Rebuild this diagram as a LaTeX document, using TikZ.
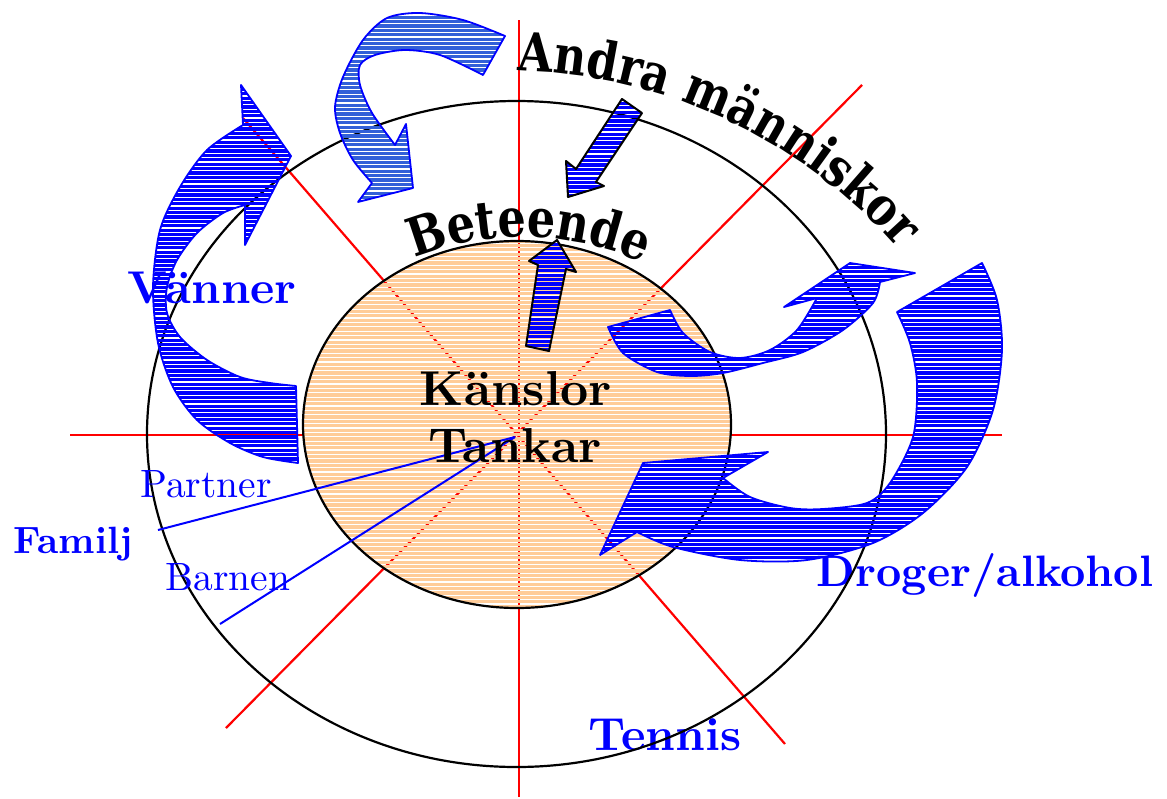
\documentclass[tikz,border=0pt]{standalone}
\usepackage{fontspec}
\setmainfont{lmroman10-regular.otf}[BoldFont=lmroman10-bold.otf]
\newfontfamily\archfont{DejaVu Serif}[FakeStretch=0.84]
\usetikzlibrary{decorations.text}

\definecolor{hookblue}{RGB}{50,96,216}
\definecolor{peach}{RGB}{255,204,153}

\begin{document}
\begin{tikzpicture}[x=1pt, y=-1pt,
  redline/.style={red, line width=2.2pt},
  ring/.style={black, line width=2.2pt},
  famline/.style={blue, line width=2pt},
  stripes/.style={path picture={
    \foreach \k in {0,...,95}
      \draw[#1, line width=3.2pt]
        ([yshift=-\k*4.4pt]path picture bounding box.north west) --
        ([yshift=-\k*4.4pt]path picture bounding box.north east);}},
  bluearrow/.style={draw=blue, line width=1.8pt, line join=round, stripes=blue},
  hookarrow/.style={draw=blue, line width=1.8pt, line join=round, stripes=hookblue},
  blackarrow/.style={draw=black, line width=2pt, line join=round, stripes=blue},
  biglabel/.style={blue, anchor=base, font=\bfseries\fontsize{46}{50}\selectfont},
  smalllabel/.style={blue, anchor=base, font=\fontsize{39.5}{44}\selectfont},
  corelabel/.style={black, anchor=base, font=\bfseries\fontsize{49}{54}\selectfont}]

\useasboundingbox (0,0) rectangle (1167,798);

% === red cross lines ===
\draw[redline] (519,20) -- (519,797);
\draw[redline] (70,435) -- (1002,435);
\draw[redline] (243,118) -- (785,744);
\draw[redline] (226,728) -- (862,85);

% labels sitting under the ring
\node[biglabel, font=\bfseries\fontsize{46.5}{50}\selectfont] (tennis) at (665,750) {Tennis};
\node[biglabel, font=\bfseries\fontsize{44}{50}\selectfont] (droger) at (985,586) {Droger/alkohol};

% === rings ===
\draw[ring] (516.5,434) ellipse (369.5pt and 333pt);
\draw[ring, stripes=peach] (517,424.5) ellipse (214pt and 183.5pt);

% === family lines ===
\coordinate (hub) at (515,437);
\coordinate (famend) at (158,530);
\coordinate (barnend) at (220,624);
\draw[famline] (famend) -- (hub);
\draw[famline] (barnend) -- (hub);

% === curved arrows ===
% Vanner
\draw[bluearrow] (296,386) -- plot[smooth] coordinates {(298,463) (263,457) (230,443) (197,420)
    (173,387) (158,343) (153,287) (160,230) (180,187) (207,150) (243,125)}
  -- (241,85) -- (291,156) -- (245,245)
  -- plot[smooth] coordinates {(245,205) (223,213) (197,233) (177,260) (167,287) (167,313)
    (180,337) (207,360) (240,377) (270,383) (296,386)} -- cycle;

% top hook towards Beteende
\draw[hookarrow] (483,75) -- plot[smooth] coordinates {(505,36) (463,20) (420,13) (387,18)
    (363,40) (343,77) (335,107) (340,133) (353,160) (372,183)}
  -- (358,202) -- (413,188) -- (406,124)
  -- plot[smooth] coordinates {(395,145) (372,113) (360,85) (360,65) (375,55) (405,50)
    (440,55) (483,75)} -- cycle;

% small one going out right
\draw[bluearrow] (670,310) -- plot[smooth] coordinates {(608,327) (623,353) (657,372) (690,376)
    (723,373) (763,363) (803,352) (843,330) (873,303) (880,282)}
  -- (915,273) -- (850,263) -- (784,307)
  -- plot[smooth] coordinates {(817,298) (797,330) (770,350) (740,358) (710,352) (683,333)
    (670,310)} -- cycle;

% big one coming back in
\draw[bluearrow] (897,312) -- plot[smooth] coordinates {(982,263) (997,300) (1002,350) (993,410)
    (967,467) (923,513) (873,543) (807,560) (740,560) (673,547) (637,532)}
  -- (600,555) -- (643,463) -- (768,452)
  -- plot[smooth] coordinates {(723,478) (750,497) (790,508) (823,509) (867,503) (890,483)
    (913,437) (917,383) (910,343) (897,312)} -- cycle;

% === straight arrows ===
\draw[blackarrow] (526,346) -- (549,351) -- (566,269) -- (576,272) -- (557,240)
  -- (529,261) -- (538,265) -- cycle;
\draw[blackarrow] (622,99) -- (642,113) -- (596,182) -- (604,186) -- (568,197)
  -- (566,161) -- (576,169) -- cycle;

% === arched titles ===
\path[decorate, decoration={text along path, text align=left,
    text={|\archfont\bfseries\fontsize{53}{58}\selectfont|Andra människor}}]
  (505,595) ++(88.6:524pt) arc[start angle=88.6, end angle=20, radius=524pt];
\path[decorate, decoration={text along path, text align=left,
    text={|\archfont\bfseries\fontsize{53}{58}\selectfont|Beteende}}]
  (523,527) ++(112:290pt) arc[start angle=112, end angle=40, radius=290pt];

% === labels ===
\node[biglabel] (vanner) at (212,303) {Vänner};
\node[biglabel, font=\bfseries\fontsize{38}{42}\selectfont] (familj) at (73,553) {Familj};
\node[smalllabel] (partner) at (206,497) {Partner};
\node[smalllabel] (barnen) at (228,590) {Barnen};
\node[corelabel] (kanslor) at (516,405) {Känslor};
\node[corelabel] (tankar) at (515,462) {Tankar};

\end{tikzpicture}
\end{document}
